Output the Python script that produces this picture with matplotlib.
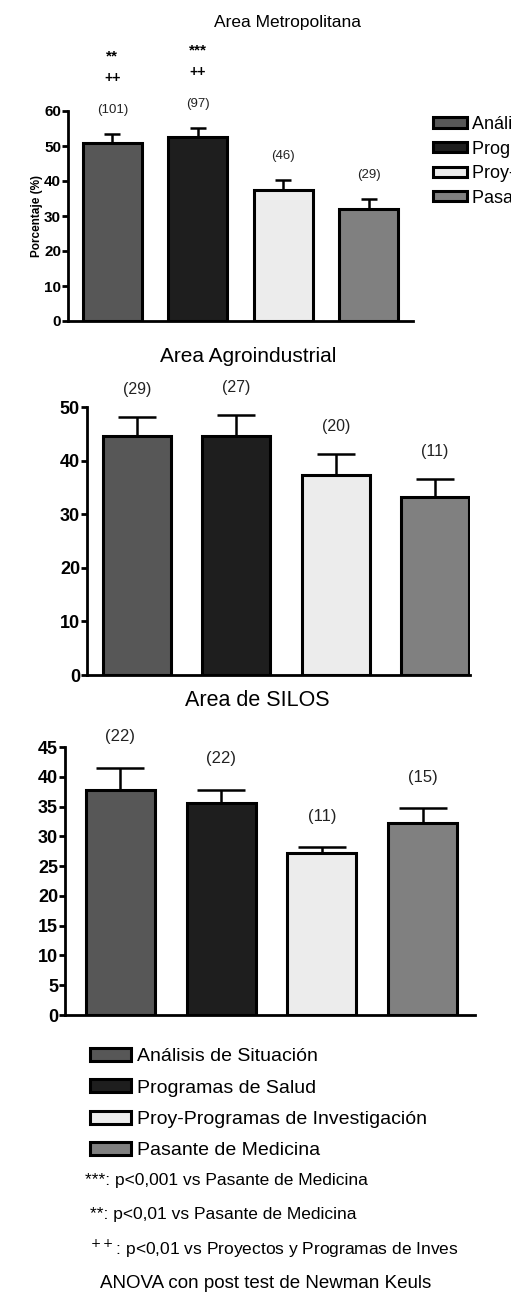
import matplotlib
matplotlib.use("Agg")
import matplotlib.pyplot as plt
from matplotlib.patches import Patch

plt.rcParams['font.family'] = ['Liberation Sans', 'DejaVu Sans']

groups = ['Análisis de Situación', 'Programas de Salud',
          'Proy-Programas de Investigación', 'Pasante de Medicina']
colors = ['#575757', '#1e1e1e', '#ececec', '#808080']

titles = ['Area Metropolitana', 'Area Agroindustrial', 'Area de SILOS']
means = [[50.9, 52.6, 37.4, 32.0],
         [44.5, 44.5, 37.4, 33.3],
         [37.8, 35.6, 27.2, 32.2]]
sems = [[2.5, 2.5, 2.9, 2.9],
        [3.7, 4.1, 3.9, 3.3],
        [3.7, 2.2, 1.0, 2.5]]
ns = [['(101)', '(97)', '(46)', '(29)'],
      ['(29)', '(27)', '(20)', '(11)'],
      ['(22)', '(22)', '(11)', '(15)']]
ymax = [60, 50, 45]
ystep = [10, 10, 5]
stars = ['**', '***', '', '']
plus = ['++', '++', '', '']

notes = ['***: p<0,001 vs Pasante de Medicina',
         '**: p<0,01 vs Pasante de Medicina',
         '$^{++}$: p<0,01 vs Proyectos y Programas de Inves',
         'ANOVA con post test de Newman Keuls']

W, H = 511, 1293
fig = plt.figure(figsize=(W / 100, H / 100), dpi=100)


def rect(l, r, b, t):
    return [l / W, 1 - b / H, (r - l) / W, (b - t) / H]


# pixel boxes of each panel: left, right, bottom, top
boxes = [(68, 413, 321, 111), (87, 470, 675, 407), (65, 475, 1015, 747)]
xlims = [(-0.52, 3.52), (-0.5, 3.35), (-0.55, 3.52)]
widths = [0.69, 0.68, 0.685]
caps = [5.5, 13.5, 17]
tick_fs = [11, 13, 13]
n_fs = [9.5, 11.5, 12]
n_off = [24, 27, 31]
title_pos = [(288, 22, 12.5), (248, 357, 15), (257, 700, 15.5)]

for i in range(3):
    ax = fig.add_axes(rect(*boxes[i]))
    x = range(4)
    ax.bar(x, means[i], width=widths[i], color=colors, edgecolor='black',
           linewidth=2.2, zorder=3)
    ax.errorbar(x, means[i], yerr=[[0] * 4, sems[i]], fmt='none',
                ecolor='black', elinewidth=1.8, capsize=caps[i],
                capthick=1.8, zorder=2)
    for j in range(4):
        top = means[i][j] + sems[i][j]
        ax.annotate(ns[i][j], (j, top), xytext=(0, n_off[i] * 0.72),
                    textcoords='offset points', ha='center', va='center',
                    fontsize=n_fs[i], color='#222222', annotation_clip=False)
        if i == 0 and stars[j]:
            ax.annotate(plus[j], (j, top), xytext=(0, (n_off[i] + 32) * 0.72),
                        textcoords='offset points', ha='center', va='center',
                        fontsize=10, fontweight='bold', annotation_clip=False)
            ax.annotate(stars[j], (j, top), xytext=(0, (n_off[i] + 54) * 0.72),
                        textcoords='offset points', ha='center', va='center',
                        fontsize=11, fontweight='bold', annotation_clip=False)
    ax.set_xlim(*xlims[i])
    ax.set_ylim(0, ymax[i])
    ax.set_yticks(range(0, ymax[i] + 1, ystep[i]))
    ax.set_xticks([])
    for s in ['top', 'right']:
        ax.spines[s].set_visible(False)
    for s in ['left', 'bottom']:
        ax.spines[s].set_linewidth(2)
    ax.tick_params(axis='y', length=4, width=2, pad=1, labelsize=tick_fs[i])
    for lb in ax.get_yticklabels():
        lb.set_fontweight('bold')
    tx, ty, tfs = title_pos[i]
    fig.text(tx / W, 1 - ty / H, titles[i], ha='center', va='center',
             fontsize=tfs)
    if i == 0:
        ax.set_ylabel('Porcentaje (%)', fontsize=8.5, fontweight='bold',
                      labelpad=1)

handles = [Patch(facecolor=c, edgecolor='black', linewidth=2.2) for c in colors]

# side legend runs off the right edge, as in the source figure
fig.legend(handles, groups, loc='upper left',
           bbox_to_anchor=(433 / W, 1 - 116 / H), frameon=False,
           fontsize=13, handlelength=1.9, handleheight=0.5,
           handletextpad=0.25, labelspacing=0.42, borderpad=0,
           borderaxespad=0)

fig.legend(handles, groups, loc='upper left',
           bbox_to_anchor=(90 / W, 1 - 1048 / H), frameon=False,
           fontsize=14, handlelength=2.1, handleheight=0.65,
           handletextpad=0.3, labelspacing=0.72, borderpad=0,
           borderaxespad=0)

note_pos = [(85, 1181), (90, 1215), (90, 1249), (100, 1284)]
note_fs = [12.5, 12.5, 12.5, 13.5]
for t, (nx, ny), fs in zip(notes, note_pos, note_fs):
    fig.text(nx / W, 1 - ny / H, t, ha='left', va='center', fontsize=fs)

fig.savefig('out.png', dpi=100)
